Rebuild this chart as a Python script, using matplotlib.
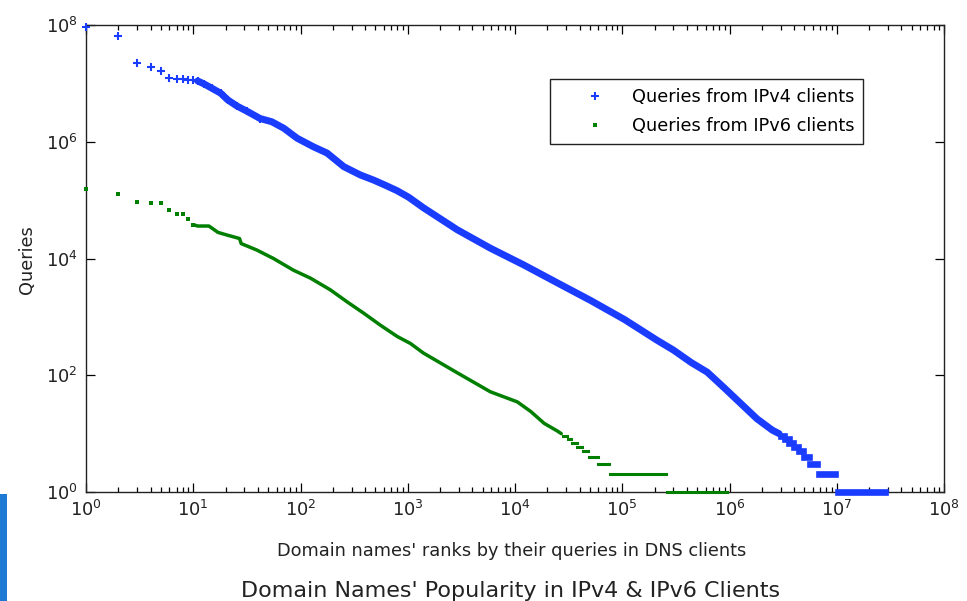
import matplotlib
matplotlib.use("Agg")
import matplotlib.pyplot as plt
from matplotlib.ticker import LogLocator, NullLocator, FixedLocator
from matplotlib.patches import Rectangle

# ---------------- data ----------------
ipv4_rank = [1, 2, 3, 4, 5, 6, 7, 8, 9, 10, 11, 12.6, 15, 18, 21, 25.5, 32,
             42, 54, 70, 93, 132, 177, 253, 361, 482, 617, 796, 1020, 1400,
             2900, 5900, 1.2e4, 2.5e4, 5.1e4, 1.05e5, 2.1e5, 3.0e5, 4.4e5,
             6.2e5, 9.0e5, 1.27e6, 1.8e6, 2.5e6, 2.9e6]
ipv4_queries = [9.2e7, 6.6e7, 2.2e7, 1.94e7, 1.6e7, 1.25e7, 1.19e7, 1.19e7,
                1.15e7, 1.15e7, 1.1e7, 9.8e6, 8.2e6, 6.8e6, 5.2e6, 4.1e6,
                3.3e6, 2.5e6, 2.2e6, 1.7e6, 1.15e6, 8.2e5, 6.4e5, 3.75e5,
                2.7e5, 2.2e5, 1.8e5, 1.45e5, 1.12e5, 7.4e4, 3.1e4, 1.5e4,
                7.8e3, 3.8e3, 1.9e3, 900, 400, 270, 165, 113, 60, 33, 18,
                11.5, 10]
ipv4_step_q = [9, 8, 7, 6, 5, 4, 3, 2, 1]
ipv4_step_from = [3.0e6, 3.3e6, 3.6e6, 4.0e6, 4.4e6, 4.9e6, 5.6e6, 6.8e6, 1.02e7]
ipv4_step_to = [3.25e6, 3.55e6, 3.95e6, 4.35e6, 4.85e6, 5.5e6, 6.6e6, 9.7e6, 2.8e7]

ipv6_rank = [1, 2, 3, 4, 5, 6, 7, 8, 9, 10, 11, 14, 17, 21, 27, 28, 39, 56,
             86, 124, 190, 273, 390, 556, 800, 1060, 1400, 2900, 5900,
             1.05e4, 1.4e4, 1.87e4, 2.5e4, 2.7e4]
ipv6_queries = [1.55e5, 1.28e5, 9.4e4, 8.9e4, 8.9e4, 6.8e4, 5.7e4, 5.7e4,
                4.7e4, 3.8e4, 3.6e4, 3.6e4, 2.8e4, 2.5e4, 2.2e4, 1.8e4,
                1.4e4, 1.0e4, 6.3e3, 4.6e3, 2.9e3, 1.8e3, 1.15e3, 720, 460,
                350, 240, 110, 52, 35, 24, 15, 11, 10]
ipv6_step_q = [9, 8, 7, 6, 5, 4, 3, 2, 1]
ipv6_step_from = [2.8e4, 3.1e4, 3.4e4, 3.8e4, 4.3e4, 4.9e4, 6.0e4, 7.7e4, 2.6e5]
ipv6_step_to = [3.05e4, 3.35e4, 3.75e4, 4.25e4, 4.8e4, 5.9e4, 7.5e4, 2.55e5, 9.4e5]

x_ticks = [1, 1e1, 1e2, 1e3, 1e4, 1e5, 1e6, 1e7, 1e8]
x_tick_labels = [r'$10^{0}$', r'$10^{1}$', r'$10^{2}$', r'$10^{3}$', r'$10^{4}$',
                 r'$10^{5}$', r'$10^{6}$', r'$10^{7}$', r'$10^{8}$']
y_ticks = [1, 1e2, 1e4, 1e6, 1e8]
y_tick_labels = [r'$10^{0}$', r'$10^{2}$', r'$10^{4}$', r'$10^{6}$', r'$10^{8}$']

labels = ['Queries from IPv4 clients', 'Queries from IPv6 clients']
x_label = "Domain names' ranks by their queries in DNS clients"
y_label = 'Queries'
title = "Domain Names' Popularity in IPv4 & IPv6 Clients"

# ---------------- styling ----------------
plt.rcParams['font.family'] = ['DejaVu Sans']
plt.rcParams['mathtext.fontset'] = 'dejavusans'
FS = 12.8
BLUE = '#1a3cff'
GREEN = '#007f00'

W, H = 967, 601
fig = plt.figure(figsize=(W / 100, H / 100), dpi=100)
fig.patch.set_facecolor('white')
ax = fig.add_axes([86 / W, 1 - 492 / H, (944 - 86) / W, (492 - 25) / H])

ax.set_xscale('log')
ax.set_yscale('log')

# IPv4
n4_head = 18
ax.plot(ipv4_rank[10:], ipv4_queries[10:], color=BLUE, lw=5.0,
        solid_capstyle='round', solid_joinstyle='round', zorder=3)
ax.plot(ipv4_rank[:n4_head], ipv4_queries[:n4_head], linestyle='none',
        marker='+', ms=6, mew=1.5, color=BLUE, clip_on=False, zorder=4,
        label=labels[0])
ax.hlines(ipv4_step_q, ipv4_step_from, ipv4_step_to, colors=BLUE, lw=4.8,
          capstyle='projecting', zorder=4, clip_on=False)

# IPv6
n6_head = 10
ax.plot(ipv6_rank[9:], ipv6_queries[9:], color=GREEN, lw=2.5,
        solid_capstyle='round', solid_joinstyle='round', zorder=3)
ax.plot(ipv6_rank[:n6_head], ipv6_queries[:n6_head], linestyle='none',
        marker='s', ms=2.6, mew=0, color=GREEN, clip_on=False, zorder=4,
        label=labels[1])
ax.hlines(ipv6_step_q, ipv6_step_from, ipv6_step_to, colors=GREEN, lw=2.2,
          capstyle='projecting', zorder=4, clip_on=False)

ax.set_xlim(1, 1e8)
ax.set_ylim(1, 1e8)

ax.xaxis.set_major_locator(FixedLocator(x_ticks))
ax.set_xticklabels(x_tick_labels)
ax.xaxis.set_minor_locator(LogLocator(base=10, subs=range(2, 10), numticks=100))
ax.yaxis.set_major_locator(FixedLocator(y_ticks))
ax.set_yticklabels(y_tick_labels)
ax.yaxis.set_minor_locator(NullLocator())

ax.tick_params(which='both', direction='in', top=True, right=True,
               labelsize=FS, color='black', labelcolor='#222222')
ax.tick_params(which='major', length=6.5, width=0.9)
ax.tick_params(which='minor', length=3.3, width=0.9)
ax.tick_params(axis='x', which='major', pad=6)
ax.tick_params(axis='y', which='major', pad=6)
for s in ax.spines.values():
    s.set_linewidth(1.0)
    s.set_color('#222222')

leg = ax.legend(loc='upper left', bbox_to_anchor=(0.541, 0.884, 0.365, 0.0),
                mode='expand', fontsize=FS, frameon=True, fancybox=False,
                borderpad=0.5, handlelength=4.0, handletextpad=0.1,
                labelspacing=0.62, borderaxespad=0.0, markerscale=1.0)
leg.get_frame().set_edgecolor('#222222')
leg.get_frame().set_linewidth(1.0)
leg.get_frame().set_alpha(1)

fig.text(511.5 / W, 1 - 556 / H, x_label, ha='center', va='baseline',
         fontsize=FS, color='#222222')
fig.text(27 / W, 1 - 260 / H, y_label, ha='center', va='center',
         rotation=90, fontsize=FS, color='#222222')
fig.text(511 / W, 1 - 597 / H, title, ha='center', va='baseline',
         fontsize=16, color='#222222')

# blue strip at bottom-left edge of the screenshot
fig.add_artist(Rectangle((0, 0), 7 / W, (H - 494) / H, transform=fig.transFigure,
                         facecolor='#1f7ad6', edgecolor='none'))

fig.savefig('out.png', dpi=100)
